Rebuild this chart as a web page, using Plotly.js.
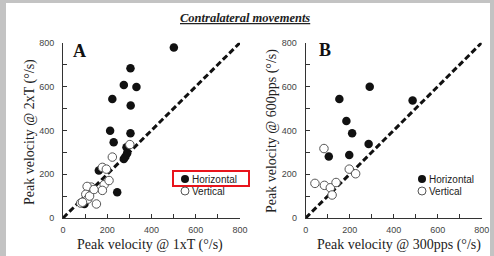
<!DOCTYPE html>
<html><head><meta charset="utf-8">
<script src="https://cdn.plot.ly/plotly-3.0.1.min.js"></script>
<style>html,body{margin:0;padding:0;background:#fff}#c{width:494px;height:256px}</style>
</head><body><div id="c"></div>
<script>
// Panel A: 1xT vs 2xT
const aHorizX = [501, 305, 275, 332, 223, 306, 213, 305, 229, 287, 290, 275, 282, 162, 245, 97];
const aHorizY = [778, 683, 607, 598, 543, 513, 398, 387, 346, 323, 296, 269, 280, 217, 117, 64];
const aVertX = [302, 223, 178, 196, 186, 208, 178, 128, 109, 103, 112, 120, 151, 80, 88, 140];
const aVertY = [335, 278, 231, 223, 152, 171, 126, 141, 144, 108, 86, 100, 64, 68, 72, 130];
// Panel B: 300pps vs 600pps
const bHorizX = [291, 153, 486, 185, 211, 286, 105, 198];
const bHorizY = [599, 543, 536, 443, 387, 338, 281, 287];
const bVertX = [83, 198, 227, 42, 85, 112, 138, 120];
const bVertY = [317, 223, 202, 158, 149, 138, 162, 105];
const tickVals = [0, 100, 200, 300, 400, 500, 600, 700, 800];
const tickText = ['0', '', '200', '', '400', '', '600', '', '800'];
const diag = [0, 800];
const seriesNames = ['Horizontal', 'Vertical'];

const W = 494, H = 256;
const px = v => v / W, py = v => 1 - v / H;

const filled = {size: 8.5, color: '#111', line: {width: 0}};
const open = {size: 8.5, color: '#fff', line: {width: 1, color: '#555'}, symbol: 'circle'};

const traces = [
  {x: diag, y: diag, mode: 'lines', line: {color: '#111', width: 3, dash: '6px,3px'}, xaxis: 'x', yaxis: 'y', hoverinfo: 'skip'},
  {x: aHorizX, y: aHorizY, mode: 'markers', marker: filled, name: seriesNames[0], xaxis: 'x', yaxis: 'y', cliponaxis: false},
  {x: aVertX, y: aVertY, mode: 'markers', marker: open, name: seriesNames[1], xaxis: 'x', yaxis: 'y', cliponaxis: false},
  {x: diag, y: diag, mode: 'lines', line: {color: '#111', width: 3, dash: '6px,3px'}, xaxis: 'x2', yaxis: 'y2', hoverinfo: 'skip'},
  {x: bHorizX, y: bHorizY, mode: 'markers', marker: filled, name: seriesNames[0], xaxis: 'x2', yaxis: 'y2', cliponaxis: false},
  {x: bVertX, y: bVertY, mode: 'markers', marker: open, name: seriesNames[1], xaxis: 'x2', yaxis: 'y2', cliponaxis: false}
];

const axBase = {
  range: [0, 800], tickvals: tickVals, ticktext: tickText, ticks: 'inside', ticklen: 4,
  tickcolor: '#333', showline: true, linecolor: '#333', linewidth: 1, showgrid: false, zeroline: false,
  tickfont: {family: 'Liberation Sans, Arial', size: 9, color: '#444'}, fixedrange: true
};
const yDom = [py(218), py(42.7)];

const serif = {family: 'Liberation Serif, Times New Roman', size: 14, color: '#222'};
const sans = {family: 'Liberation Sans, Arial', size: 10, color: '#222'};
function ann(text, x, y, font, extra) {
  return Object.assign({text: text, xref: 'paper', yref: 'paper', x: px(x), y: py(y), showarrow: false,
    xanchor: 'center', yanchor: 'middle', font: font}, extra || {});
}
function legendItems(mx, my) {
  const r = 4;
  const shapes = [
    {type: 'circle', xref: 'paper', yref: 'paper', x0: px(mx - r), x1: px(mx + r), y0: py(my + r), y1: py(my - r), fillcolor: '#111', line: {width: 0}},
    {type: 'circle', xref: 'paper', yref: 'paper', x0: px(mx - r), x1: px(mx + r), y0: py(my + 12 + r), y1: py(my + 12 - r), fillcolor: '#fff', line: {width: 1, color: '#555'}}
  ];
  const anns = [
    ann(seriesNames[0], mx + 5, my, sans, {xanchor: 'left'}),
    ann(seriesNames[1], mx + 5, my + 12, sans, {xanchor: 'left'})
  ];
  return {shapes, anns};
}
const legA = legendItems(185, 179);
const legB = legendItems(422, 179);

const layout = {
  width: W, height: H, autosize: false, showlegend: false,
  margin: {l: 0, r: 0, t: 0, b: 0, pad: 0},
  paper_bgcolor: '#fff', plot_bgcolor: '#fff',
  xaxis: Object.assign({}, axBase, {domain: [px(63), px(240)], anchor: 'y', ticklabelstandoff: 3}),
  yaxis: Object.assign({}, axBase, {domain: yDom, anchor: 'x', ticklabelstandoff: 6}),
  xaxis2: Object.assign({}, axBase, {domain: [px(305.7), px(481.7)], anchor: 'y2', ticklabelstandoff: 3}),
  yaxis2: Object.assign({}, axBase, {domain: yDom, anchor: 'x2', ticklabelstandoff: 6}),
  shapes: [
    {type: 'rect', xref: 'paper', yref: 'paper', x0: 0, x1: px(6), y0: 0, y1: 1, fillcolor: '#c3c3c3', line: {width: 0}, layer: 'below'},
    {type: 'rect', xref: 'paper', yref: 'paper', x0: 0, x1: 1, y0: py(3), y1: 1, fillcolor: '#c3c3c3', line: {width: 0}, layer: 'below'},
    {type: 'rect', xref: 'paper', yref: 'paper', x0: px(490), x1: 1, y0: 0, y1: 1, fillcolor: '#c3c3c3', line: {width: 0}, layer: 'below'},
    {type: 'rect', xref: 'paper', yref: 'paper', x0: px(173), x1: px(249), y0: py(186), y1: py(171), fillcolor: 'rgba(0,0,0,0)', line: {width: 2, color: '#e8141c'}}
  ].concat(legA.shapes, legB.shapes),
  annotations: [
    ann('<b><i><u>Contralateral movements</u></i></b>', 245, 18, {family: 'Liberation Serif, Times New Roman', size: 12.5, color: '#222'}),
    ann('<b>A</b>', 79, 51, {family: 'Liberation Serif, Times New Roman', size: 18, color: '#111'}),
    ann('<b>B</b>', 325, 50, {family: 'Liberation Serif, Times New Roman', size: 18, color: '#111'}),
    ann('Peak velocity @ 1xT (°/s)', 150, 245, serif),
    ann('Peak velocity @ 300pps (°/s)', 399, 245, serif),
    ann('Peak velocity @ 2xT (°/s)', 30, 132, serif, {textangle: -90}),
    ann('Peak velocity @ 600pps (°/s)', 272, 131, serif, {textangle: -90})
  ].concat(legA.anns, legB.anns)
};

Plotly.newPlot('c', traces, layout, {staticPlot: true, displayModeBar: false});
</script></body></html>
